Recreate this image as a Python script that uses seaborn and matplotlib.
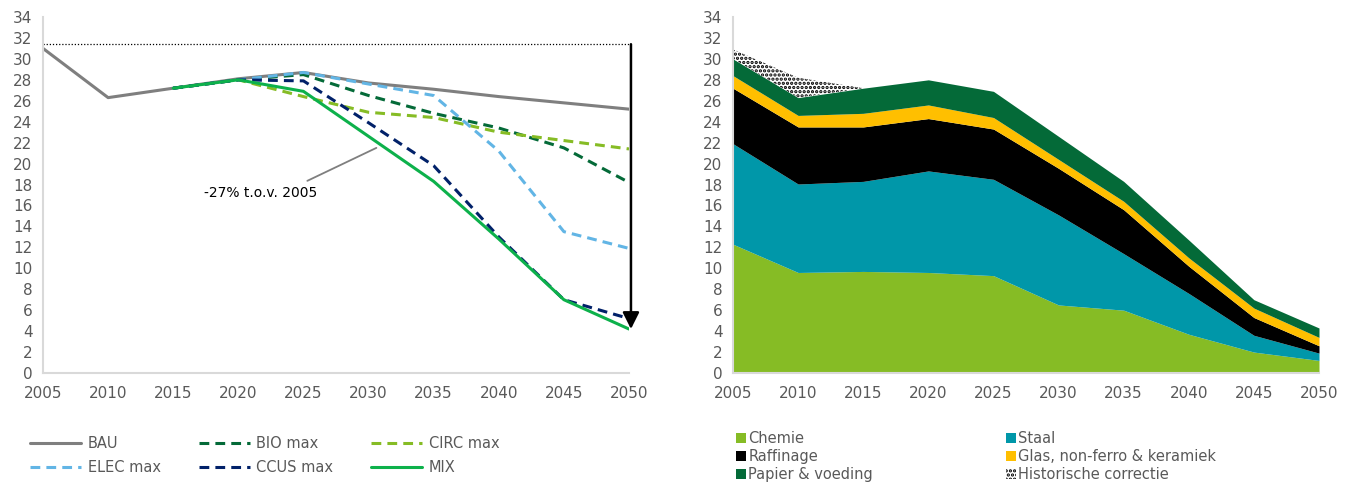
''' Industrie emissies: scenario's (links) en opbouw per sector (rechts) '''

import numpy as np
import pandas as pd
import matplotlib.pyplot as plt
import seaborn as sns
from matplotlib.patches import Patch
from matplotlib.lines import Line2D

# --- data -------------------------------------------------------------
years = [2005, 2010, 2015, 2020, 2025, 2030, 2035, 2040, 2045, 2050]
scen_years = [2015, 2020, 2025, 2030, 2035, 2040, 2045, 2050]

bau = [31.0, 26.3, 27.2, 28.1, 28.7, 27.7, 27.1, 26.4, 25.8, 25.2]
bio_max = [27.2, 28.0, 28.5, 26.5, 24.8, 23.4, 21.5, 18.2]
circ_max = [27.2, 28.0, 26.4, 24.9, 24.4, 23.0, 22.2, 21.4]
elec_max = [27.2, 28.0, 28.7, 27.6, 26.5, 21.2, 13.5, 11.9]
ccus_max = [27.2, 28.0, 27.9, 23.9, 19.8, 13.0, 7.0, 5.2]
mix = [27.2, 28.0, 26.9, 22.6, 18.3, 12.8, 7.0, 4.2]
ref_2005 = 31.4

chemie = [12.3, 9.6, 9.7, 9.6, 9.3, 6.5, 6.0, 3.7, 2.0, 1.2]
staal = [9.6, 8.45, 8.6, 9.7, 9.2, 8.6, 5.4, 3.9, 1.6, 0.7]
raffinage = [5.3, 5.45, 5.2, 5.0, 4.8, 4.45, 4.2, 2.6, 1.7, 0.7]
glas = [1.2, 1.1, 1.3, 1.3, 1.1, 0.85, 0.8, 0.8, 0.9, 0.8]
papier = [1.6, 1.7, 2.4, 2.4, 2.5, 2.2, 1.9, 1.7, 0.8, 0.9]
hist = [0.9, 1.9, 0, 0, 0, 0, 0, 0, 0, 0]

scenarios = ['BAU', 'BIO max', 'CIRC max', 'ELEC max', 'CCUS max', 'MIX']
scen_colors = {'BAU': '#7F7F7F', 'BIO max': '#046A38', 'CIRC max': '#86BC25',
               'ELEC max': '#62B5E5', 'CCUS max': '#012169', 'MIX': '#0DB14B'}
scen_dashes = {'BAU': '', 'BIO max': (3.2, 2), 'CIRC max': (3.2, 2),
               'ELEC max': (3.2, 2), 'CCUS max': (3.2, 2), 'MIX': ''}

sectors = ['Chemie', 'Staal', 'Raffinage', 'Glas, non-ferro & keramiek',
           'Papier & voeding', 'Historische correctie']
sector_colors = ['#86BC25', '#0097A9', '#000000', '#FFBF00', '#046A38', 'white']

TXT = '#595959'
SPINE = '#D9D9D9'


def style_axes(ax):
    ''' Excel-achtige assen '''
    ax.set_xlim(2005, 2050)
    ax.set_ylim(0, 34)
    ax.set_xticks(years)
    ax.set_yticks(np.arange(0, 35, 2))
    for side in ['top', 'right']:
        ax.spines[side].set_visible(False)
    for side in ['left', 'bottom']:
        ax.spines[side].set_color(SPINE)
        ax.spines[side].set_linewidth(1.5)
    ax.tick_params(axis='both', colors=SPINE, labelcolor=TXT, labelsize=11,
                   length=4, width=1.5, direction='out')
    ax.tick_params(axis='x', pad=5)
    ax.set_xlabel('')
    ax.set_ylabel('')


def plot_scenarios(ax):
    ''' Lijnen per scenario '''
    frames = [pd.DataFrame({'Jaar': years, 'Emissie': bau, 'Scenario': 'BAU'})]
    for name, vals in zip(scenarios[1:], [bio_max, circ_max, elec_max, ccus_max, mix]):
        frames.append(pd.DataFrame({'Jaar': scen_years, 'Emissie': vals, 'Scenario': name}))
    df = pd.concat(frames, ignore_index=True)

    sns.lineplot(data=df, x='Jaar', y='Emissie', hue='Scenario', style='Scenario',
                 hue_order=scenarios, style_order=scenarios, palette=scen_colors,
                 dashes=scen_dashes, linewidth=2.2, estimator=None, legend=False, ax=ax)

    # referentie 2005 en pijl naar 2050
    ax.plot([years[0], years[-1]], [ref_2005, ref_2005], color='black', lw=0.9,
            ls=(0, (1, 1.5)), clip_on=False)
    ax.annotate('', xy=(2050.15, mix[-1]), xytext=(2050.15, ref_2005),
                arrowprops=dict(arrowstyle='-|>,head_length=1.0,head_width=0.5',
                                color='black', lw=1.8, shrinkA=0, shrinkB=0),
                annotation_clip=False)
    ax.annotate('-27% t.o.v. 2005', xy=(2030.6, 21.5), xytext=(2021.7, 17.2),
                ha='center', va='center', fontsize=10, color='black',
                arrowprops=dict(arrowstyle='-', color='#7F7F7F', lw=1.3,
                                relpos=(0.82, 1.0), shrinkA=3, shrinkB=0))
    style_axes(ax)


def plot_sectors(ax):
    ''' Gestapelde vlakken per sector '''
    polys = ax.stackplot(years, chemie, staal, raffinage, glas, papier, hist,
                         colors=sector_colors, linewidth=0, labels=sectors)
    polys[-1].set_hatch('....')
    polys[-1].set_edgecolor('black')
    polys[-1].set_linewidth(0)
    style_axes(ax)


sns.set_style('white')
plt.rcParams['font.family'] = ['DejaVu Sans']
plt.rcParams['hatch.color'] = 'black'
plt.rcParams['hatch.linewidth'] = 1.6

fig = plt.figure(figsize=(13.47, 4.83), dpi=100)
ax1 = fig.add_axes([43 / 1347, 1 - 373 / 483, (629 - 43) / 1347, 356 / 483])
ax2 = fig.add_axes([733 / 1347, 1 - 373 / 483, (1319 - 733) / 1347, 356 / 483])

plot_scenarios(ax1)
plot_sectors(ax2)

# legenda links (rij voor rij gelezen)
leg_order = ['BAU', 'ELEC max', 'BIO max', 'CCUS max', 'CIRC max', 'MIX']
handles = []
for name in leg_order:
    ls = '-' if scen_dashes[name] == '' else (0, scen_dashes[name])
    handles.append(Line2D([], [], color=scen_colors[name], lw=2.2, ls=ls))
fig.legend(handles, leg_order, ncol=3, loc='upper left',
           bbox_to_anchor=(30 / 1347, 1 - 436 / 483), frameon=False,
           fontsize=10.5, labelcolor=TXT, handlelength=3.5, handletextpad=0.45,
           columnspacing=2.6, labelspacing=0.62, borderpad=0, borderaxespad=0)

# legenda rechts
sec_handles = []
for name, col in zip(sectors, sector_colors):
    if name == 'Historische correctie':
        sec_handles.append(Patch(facecolor='white', edgecolor='black', hatch='....', lw=0))
    else:
        sec_handles.append(Patch(facecolor=col, lw=0))
order = [0, 2, 4, 1, 3, 5]
fig.legend([sec_handles[i] for i in order], [sectors[i] for i in order], ncol=2,
           loc='upper left', bbox_to_anchor=(736 / 1347, 1 - 431 / 483), frameon=False,
           fontsize=10.5, labelcolor=TXT, handlelength=0.7, handleheight=0.7,
           handletextpad=0.15, columnspacing=9.1, labelspacing=0.22,
           borderpad=0, borderaxespad=0)

fig.savefig('out.png', dpi=100)
